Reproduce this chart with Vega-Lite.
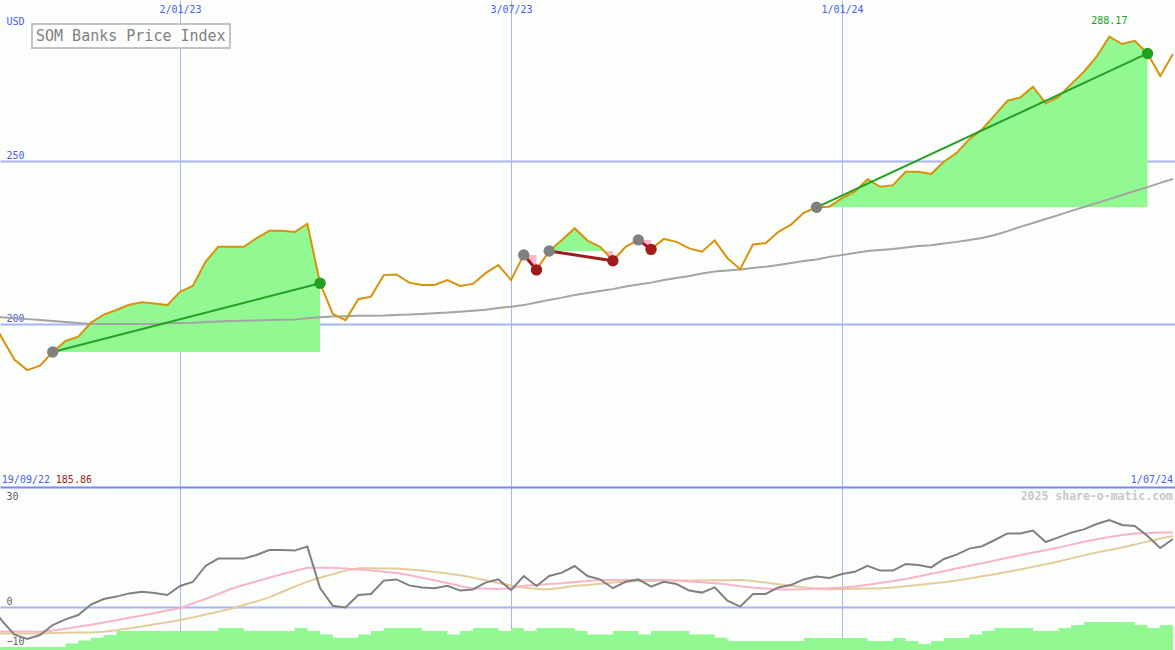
{
  "$schema": "https://vega.github.io/schema/vega-lite/v6.json",
  "background": "#fcfefc",
  "padding": 0,
  "spacing": 0,
  "config": {"view": {"stroke": null}, "font": "DejaVu Sans Mono"},
  "datasets": {
    "main": [
      {"d":"2022-09-19","p":203.0,"ma":202.5,"o":0.75,"pk":-6.1,"tn":-6.6,"v":-10.0},
      {"d":"2022-09-26","p":195.8,"ma":202.1,"o":-3.4,"pk":-6.1,"tn":-6.6,"v":-10.0},
      {"d":"2022-10-03","p":189.0,"ma":201.8,"o":-6.9,"pk":-6.1,"tn":-6.6,"v":-10.0},
      {"d":"2022-10-10","p":185.86,"ma":201.5,"o":-8.0,"pk":-6.1,"tn":-6.6,"v":-10.0},
      {"d":"2022-10-17","p":187.2,"ma":201.2,"o":-7.0,"pk":-6.2,"tn":-6.6,"v":-10.0},
      {"d":"2022-10-24","p":191.4,"ma":200.9,"o":-4.5,"pk":-5.9,"tn":-6.5,"v":-10.0},
      {"d":"2022-10-31","p":194.8,"ma":200.6,"o":-3.1,"pk":-5.45,"tn":-6.45,"v":-9.1},
      {"d":"2022-11-07","p":196.1,"ma":200.3,"o":-2.0,"pk":-4.95,"tn":-6.4,"v":-8.4},
      {"d":"2022-11-14","p":200.4,"ma":200.0,"o":0.6,"pk":-4.45,"tn":-6.35,"v":-7.7},
      {"d":"2022-11-21","p":202.9,"ma":200.0,"o":2.0,"pk":-3.9,"tn":-6.2,"v":-7.0},
      {"d":"2022-11-28","p":204.3,"ma":200.0,"o":2.6,"pk":-3.3,"tn":-5.8,"v":-6.0},
      {"d":"2022-12-05","p":205.9,"ma":200.0,"o":3.4,"pk":-2.7,"tn":-5.3,"v":-6.0},
      {"d":"2022-12-12","p":206.7,"ma":200.0,"o":3.8,"pk":-2.1,"tn":-4.85,"v":-6.0},
      {"d":"2022-12-19","p":206.3,"ma":200.0,"o":3.5,"pk":-1.5,"tn":-4.3,"v":-6.0},
      {"d":"2022-12-26","p":205.8,"ma":200.2,"o":3.0,"pk":-0.9,"tn":-3.8,"v":-6.0},
      {"d":"2023-01-02","p":209.9,"ma":200.3,"o":5.25,"pk":-0.3,"tn":-3.25,"v":-6.0},
      {"d":"2023-01-09","p":211.7,"ma":200.4,"o":6.25,"pk":0.9,"tn":-2.6,"v":-6.0},
      {"d":"2023-01-16","p":219.1,"ma":200.6,"o":10.25,"pk":2.0,"tn":-1.9,"v":-6.0},
      {"d":"2023-01-23","p":223.7,"ma":200.8,"o":12.1,"pk":3.25,"tn":-1.2,"v":-5.25},
      {"d":"2023-01-30","p":223.7,"ma":200.9,"o":12.1,"pk":4.5,"tn":-0.45,"v":-5.25},
      {"d":"2023-02-06","p":223.7,"ma":201.0,"o":12.1,"pk":5.5,"tn":0.5,"v":-6.0},
      {"d":"2023-02-13","p":226.3,"ma":201.1,"o":13.0,"pk":6.4,"tn":1.4,"v":-6.0},
      {"d":"2023-02-20","p":228.6,"ma":201.2,"o":14.25,"pk":7.3,"tn":2.4,"v":-6.0},
      {"d":"2023-02-27","p":228.6,"ma":201.3,"o":14.25,"pk":8.2,"tn":3.75,"v":-6.0},
      {"d":"2023-03-06","p":228.2,"ma":201.4,"o":14.1,"pk":9.0,"tn":5.1,"v":-5.25},
      {"d":"2023-03-13","p":230.7,"ma":201.8,"o":15.1,"pk":9.8,"tn":6.35,"v":-6.0},
      {"d":"2023-03-20","p":212.5,"ma":202.1,"o":4.75,"pk":9.8,"tn":7.3,"v":-6.9},
      {"d":"2023-03-27","p":203.1,"ma":202.3,"o":0.3,"pk":9.8,"tn":8.2,"v":-7.7},
      {"d":"2023-04-03","p":201.2,"ma":202.4,"o":-0.1,"pk":9.65,"tn":9.1,"v":-7.7},
      {"d":"2023-04-10","p":207.6,"ma":202.5,"o":3.0,"pk":9.4,"tn":9.7,"v":-6.9},
      {"d":"2023-04-17","p":208.4,"ma":202.5,"o":3.25,"pk":9.15,"tn":9.7,"v":-6.0},
      {"d":"2023-04-24","p":215.0,"ma":202.6,"o":6.6,"pk":8.8,"tn":9.65,"v":-5.25},
      {"d":"2023-05-01","p":215.2,"ma":202.8,"o":6.9,"pk":8.5,"tn":9.6,"v":-5.25},
      {"d":"2023-05-08","p":212.7,"ma":202.9,"o":5.4,"pk":8.0,"tn":9.4,"v":-5.25},
      {"d":"2023-05-15","p":212.0,"ma":203.1,"o":4.9,"pk":7.3,"tn":9.1,"v":-6.0},
      {"d":"2023-05-22","p":212.0,"ma":203.3,"o":4.7,"pk":6.7,"tn":8.75,"v":-6.0},
      {"d":"2023-05-29","p":213.5,"ma":203.5,"o":5.3,"pk":6.0,"tn":8.4,"v":-6.9},
      {"d":"2023-06-05","p":211.7,"ma":203.8,"o":4.1,"pk":5.25,"tn":7.95,"v":-6.0},
      {"d":"2023-06-12","p":212.3,"ma":204.1,"o":4.4,"pk":4.65,"tn":7.4,"v":-5.25},
      {"d":"2023-06-19","p":215.6,"ma":204.4,"o":6.1,"pk":4.6,"tn":6.7,"v":-5.25},
      {"d":"2023-06-26","p":218.1,"ma":204.9,"o":6.9,"pk":4.5,"tn":6.0,"v":-6.0},
      {"d":"2023-07-03","p":213.5,"ma":205.3,"o":4.25,"pk":4.7,"tn":5.4,"v":-5.25},
      {"d":"2023-07-10","p":221.2,"ma":205.8,"o":7.75,"pk":5.3,"tn":4.9,"v":-6.0},
      {"d":"2023-07-17","p":216.6,"ma":206.6,"o":5.25,"pk":5.5,"tn":4.5,"v":-5.25},
      {"d":"2023-07-24","p":222.4,"ma":207.4,"o":7.75,"pk":5.75,"tn":4.45,"v":-5.25},
      {"d":"2023-07-31","p":225.8,"ma":208.1,"o":8.6,"pk":5.95,"tn":4.8,"v":-5.25},
      {"d":"2023-08-07","p":229.4,"ma":208.9,"o":10.25,"pk":6.25,"tn":5.3,"v":-6.0},
      {"d":"2023-08-14","p":225.6,"ma":209.5,"o":7.75,"pk":6.5,"tn":5.5,"v":-6.9},
      {"d":"2023-08-21","p":223.7,"ma":210.1,"o":6.9,"pk":6.75,"tn":5.8,"v":-6.9},
      {"d":"2023-08-28","p":219.4,"ma":210.7,"o":4.7,"pk":6.75,"tn":6.1,"v":-6.0},
      {"d":"2023-09-04","p":223.7,"ma":211.5,"o":6.3,"pk":6.75,"tn":6.35,"v":-6.0},
      {"d":"2023-09-11","p":225.8,"ma":212.1,"o":6.9,"pk":6.75,"tn":6.5,"v":-6.9},
      {"d":"2023-09-18","p":222.9,"ma":212.7,"o":5.1,"pk":6.75,"tn":6.5,"v":-6.0},
      {"d":"2023-09-25","p":226.1,"ma":213.5,"o":6.3,"pk":6.75,"tn":6.6,"v":-6.0},
      {"d":"2023-10-02","p":225.2,"ma":214.1,"o":5.75,"pk":6.6,"tn":6.6,"v":-6.0},
      {"d":"2023-10-09","p":223.2,"ma":214.7,"o":4.1,"pk":6.4,"tn":6.6,"v":-6.9},
      {"d":"2023-10-16","p":222.2,"ma":215.5,"o":3.6,"pk":6.2,"tn":6.65,"v":-6.9},
      {"d":"2023-10-23","p":225.6,"ma":216.1,"o":4.9,"pk":5.95,"tn":6.7,"v":-7.7},
      {"d":"2023-10-30","p":220.2,"ma":216.4,"o":1.6,"pk":5.6,"tn":6.7,"v":-8.5},
      {"d":"2023-11-06","p":216.8,"ma":216.7,"o":0.1,"pk":5.2,"tn":6.75,"v":-8.5},
      {"d":"2023-11-13","p":224.4,"ma":217.2,"o":3.25,"pk":4.85,"tn":6.5,"v":-8.5},
      {"d":"2023-11-20","p":224.8,"ma":217.6,"o":3.25,"pk":4.6,"tn":6.1,"v":-8.5},
      {"d":"2023-11-27","p":228.3,"ma":218.1,"o":4.9,"pk":4.4,"tn":5.7,"v":-8.5},
      {"d":"2023-12-04","p":230.5,"ma":218.7,"o":5.5,"pk":4.4,"tn":5.3,"v":-8.5},
      {"d":"2023-12-11","p":234.1,"ma":219.3,"o":6.9,"pk":4.45,"tn":4.9,"v":-7.75},
      {"d":"2023-12-18","p":235.8,"ma":219.8,"o":7.6,"pk":4.6,"tn":4.65,"v":-7.75},
      {"d":"2023-12-25","p":236.0,"ma":220.6,"o":7.25,"pk":4.7,"tn":4.4,"v":-7.75},
      {"d":"2024-01-01","p":238.6,"ma":221.2,"o":8.25,"pk":4.85,"tn":4.5,"v":-7.75},
      {"d":"2024-01-08","p":240.6,"ma":221.8,"o":8.8,"pk":5.1,"tn":4.55,"v":-7.75},
      {"d":"2024-01-15","p":244.4,"ma":222.4,"o":10.3,"pk":5.55,"tn":4.6,"v":-8.5},
      {"d":"2024-01-22","p":242.1,"ma":222.7,"o":9.1,"pk":6.0,"tn":4.65,"v":-8.5},
      {"d":"2024-01-29","p":242.6,"ma":223.0,"o":9.1,"pk":6.5,"tn":4.9,"v":-7.75},
      {"d":"2024-02-05","p":246.7,"ma":223.5,"o":10.75,"pk":7.0,"tn":5.2,"v":-8.5},
      {"d":"2024-02-12","p":246.7,"ma":223.9,"o":10.5,"pk":7.65,"tn":5.5,"v":-9.25},
      {"d":"2024-02-19","p":246.0,"ma":224.2,"o":9.9,"pk":8.3,"tn":5.85,"v":-8.5},
      {"d":"2024-02-26","p":249.8,"ma":224.7,"o":12.0,"pk":8.95,"tn":6.2,"v":-7.75},
      {"d":"2024-03-04","p":252.5,"ma":225.2,"o":13.1,"pk":9.6,"tn":6.6,"v":-7.75},
      {"d":"2024-03-11","p":256.7,"ma":225.8,"o":14.6,"pk":10.3,"tn":7.1,"v":-6.9},
      {"d":"2024-03-18","p":259.7,"ma":226.4,"o":15.2,"pk":10.95,"tn":7.7,"v":-6.0},
      {"d":"2024-03-25","p":264.1,"ma":227.3,"o":16.75,"pk":11.65,"tn":8.2,"v":-5.25},
      {"d":"2024-04-01","p":268.5,"ma":228.5,"o":18.4,"pk":12.3,"tn":8.8,"v":-5.25},
      {"d":"2024-04-08","p":269.5,"ma":229.8,"o":18.4,"pk":12.95,"tn":9.4,"v":-5.25},
      {"d":"2024-04-15","p":272.8,"ma":231.0,"o":19.1,"pk":13.6,"tn":10.05,"v":-6.0},
      {"d":"2024-04-22","p":267.7,"ma":232.2,"o":16.25,"pk":14.2,"tn":10.7,"v":-6.0},
      {"d":"2024-04-29","p":269.7,"ma":233.4,"o":17.4,"pk":14.85,"tn":11.4,"v":-5.25},
      {"d":"2024-05-06","p":273.6,"ma":234.7,"o":18.6,"pk":15.6,"tn":12.15,"v":-4.5},
      {"d":"2024-05-13","p":277.4,"ma":235.9,"o":19.4,"pk":16.3,"tn":12.9,"v":-3.75},
      {"d":"2024-05-20","p":282.0,"ma":237.1,"o":20.75,"pk":16.95,"tn":13.6,"v":-3.75},
      {"d":"2024-05-27","p":288.17,"ma":238.3,"o":21.75,"pk":17.5,"tn":14.25,"v":-3.75},
      {"d":"2024-06-03","p":285.9,"ma":239.6,"o":20.5,"pk":18.0,"tn":14.9,"v":-3.75},
      {"d":"2024-06-10","p":286.9,"ma":240.8,"o":20.25,"pk":18.4,"tn":15.6,"v":-4.5},
      {"d":"2024-06-17","p":283.0,"ma":242.0,"o":17.75,"pk":18.5,"tn":16.4,"v":-5.25},
      {"d":"2024-06-24","p":276.1,"ma":243.3,"o":14.75,"pk":18.6,"tn":17.1,"v":-4.5},
      {"d":"2024-07-01","p":282.8,"ma":244.5,"o":17.0,"pk":18.65,"tn":17.75,"v":-4.5}
    ],
    "gain": [
      {"t":"t1","d":"2022-10-24","p":191.4,"b":191.4},
      {"t":"t1","d":"2022-10-31","p":194.8,"b":191.4},
      {"t":"t1","d":"2022-11-07","p":196.1,"b":191.4},
      {"t":"t1","d":"2022-11-14","p":200.4,"b":191.4},
      {"t":"t1","d":"2022-11-21","p":202.9,"b":191.4},
      {"t":"t1","d":"2022-11-28","p":204.3,"b":191.4},
      {"t":"t1","d":"2022-12-05","p":205.9,"b":191.4},
      {"t":"t1","d":"2022-12-12","p":206.7,"b":191.4},
      {"t":"t1","d":"2022-12-19","p":206.3,"b":191.4},
      {"t":"t1","d":"2022-12-26","p":205.8,"b":191.4},
      {"t":"t1","d":"2023-01-02","p":209.9,"b":191.4},
      {"t":"t1","d":"2023-01-09","p":211.7,"b":191.4},
      {"t":"t1","d":"2023-01-16","p":219.1,"b":191.4},
      {"t":"t1","d":"2023-01-23","p":223.7,"b":191.4},
      {"t":"t1","d":"2023-01-30","p":223.7,"b":191.4},
      {"t":"t1","d":"2023-02-06","p":223.7,"b":191.4},
      {"t":"t1","d":"2023-02-13","p":226.3,"b":191.4},
      {"t":"t1","d":"2023-02-20","p":228.6,"b":191.4},
      {"t":"t1","d":"2023-02-27","p":228.6,"b":191.4},
      {"t":"t1","d":"2023-03-06","p":228.2,"b":191.4},
      {"t":"t1","d":"2023-03-13","p":230.7,"b":191.4},
      {"t":"t1","d":"2023-03-20","p":212.5,"b":191.4},
      {"t":"t3","d":"2023-07-24","p":222.4,"b":222.4},
      {"t":"t3","d":"2023-07-31","p":225.8,"b":222.4},
      {"t":"t3","d":"2023-08-07","p":229.4,"b":222.4},
      {"t":"t3","d":"2023-08-14","p":225.6,"b":222.4},
      {"t":"t3","d":"2023-08-21","p":223.7,"b":222.4},
      {"t":"t3","d":"2023-08-23","p":222.4,"b":222.4},
      {"t":"t5","d":"2023-12-18","p":235.8,"b":235.8},
      {"t":"t5","d":"2023-12-25","p":236.0,"b":235.8},
      {"t":"t5","d":"2024-01-01","p":238.6,"b":235.8},
      {"t":"t5","d":"2024-01-08","p":240.6,"b":235.8},
      {"t":"t5","d":"2024-01-15","p":244.4,"b":235.8},
      {"t":"t5","d":"2024-01-22","p":242.1,"b":235.8},
      {"t":"t5","d":"2024-01-29","p":242.6,"b":235.8},
      {"t":"t5","d":"2024-02-05","p":246.7,"b":235.8},
      {"t":"t5","d":"2024-02-12","p":246.7,"b":235.8},
      {"t":"t5","d":"2024-02-19","p":246.0,"b":235.8},
      {"t":"t5","d":"2024-02-26","p":249.8,"b":235.8},
      {"t":"t5","d":"2024-03-04","p":252.5,"b":235.8},
      {"t":"t5","d":"2024-03-11","p":256.7,"b":235.8},
      {"t":"t5","d":"2024-03-18","p":259.7,"b":235.8},
      {"t":"t5","d":"2024-03-25","p":264.1,"b":235.8},
      {"t":"t5","d":"2024-04-01","p":268.5,"b":235.8},
      {"t":"t5","d":"2024-04-08","p":269.5,"b":235.8},
      {"t":"t5","d":"2024-04-15","p":272.8,"b":235.8},
      {"t":"t5","d":"2024-04-22","p":267.7,"b":235.8},
      {"t":"t5","d":"2024-04-29","p":269.7,"b":235.8},
      {"t":"t5","d":"2024-05-06","p":273.6,"b":235.8},
      {"t":"t5","d":"2024-05-13","p":277.4,"b":235.8},
      {"t":"t5","d":"2024-05-20","p":282.0,"b":235.8},
      {"t":"t5","d":"2024-05-27","p":288.17,"b":235.8},
      {"t":"t5","d":"2024-06-03","p":285.9,"b":235.8},
      {"t":"t5","d":"2024-06-10","p":286.9,"b":235.8},
      {"t":"t5","d":"2024-06-17","p":283.0,"b":235.8}
    ],
    "loss": [
      {"t":"t2","d":"2023-07-10","p":221.2,"b":221.2},
      {"t":"t2","d":"2023-07-17","p":216.6,"b":221.2},
      {"t":"t3","d":"2023-08-23","p":222.4,"b":222.4},
      {"t":"t3","d":"2023-08-28","p":219.4,"b":222.4},
      {"t":"t4","d":"2023-09-11","p":225.8,"b":225.8},
      {"t":"t4","d":"2023-09-18","p":222.9,"b":225.8}
    ],
    "trades": [
      {"t":"t1","d":"2022-10-24","p":191.4,"m":"entry","o":"win"},
      {"t":"t1","d":"2023-03-20","p":212.5,"m":"win","o":"win"},
      {"t":"t2","d":"2023-07-10","p":221.2,"m":"entry","o":"loss"},
      {"t":"t2","d":"2023-07-17","p":216.6,"m":"loss","o":"loss"},
      {"t":"t3","d":"2023-07-24","p":222.4,"m":"entry","o":"loss"},
      {"t":"t3","d":"2023-08-28","p":219.4,"m":"loss","o":"loss"},
      {"t":"t4","d":"2023-09-11","p":225.8,"m":"entry","o":"loss"},
      {"t":"t4","d":"2023-09-18","p":222.9,"m":"loss","o":"loss"},
      {"t":"t5","d":"2023-12-18","p":235.8,"m":"entry","o":"win"},
      {"t":"t5","d":"2024-06-17","p":283.0,"m":"win","o":"win"}
    ]
  },
  "vconcat": [
    {
      "width": 1175,
      "height": 487,
      "encoding": {
        "x": {
          "field": "d", "type": "temporal",
          "scale": {"type": "utc", "domain": [{"year":2022,"month":9,"date":25,"utc":true},{"year":2024,"month":7,"date":2,"hours":2,"minutes":24,"utc":true}]},
          "axis": {
            "orient": "top", "title": null,
            "values": [{"year":2023,"month":1,"date":2,"utc":true},{"year":2023,"month":7,"date":3,"utc":true},{"year":2024,"month":1,"date":1,"utc":true}],
            "labelExpr": "utcFormat(datum.value, '%-d/%m/%y')",
            "grid": true, "gridColor": "#a8b4f4", "gridWidth": 1,
            "ticks": false, "tickSize": 0, "domain": false,
            "labelPadding": -14, "labelBaseline": "bottom", "labelAlign": "center",
            "labelColor": "#4a5cf0", "labelFont": "DejaVu Sans Mono", "labelFontSize": 10,
            "labelFlush": false, "labelOverlap": false
          }
        },
        "y": {
          "field": "p", "type": "quantitative",
          "scale": {"domain": [150, 299.4], "nice": false, "zero": false},
          "axis": {
            "orient": "left", "values": [200, 250],
            "grid": true, "gridColor": "#a8b4f4", "gridWidth": 2,
            "ticks": false, "tickSize": 0, "domain": false,
            "labelAlign": "left", "labelBaseline": "bottom", "labelPadding": -6, "labelOffset": -1,
            "labelColor": "#4a5cf0", "labelFont": "DejaVu Sans Mono", "labelFontSize": 10,
            "labelFlush": false, "labelOverlap": false,
            "title": "USD", "titleAngle": 0, "titleX": 6, "titleY": 26, "titleAlign": "left", "titleBaseline": "bottom",
            "titleColor": "#4a5cf0", "titleFont": "DejaVu Sans Mono", "titleFontSize": 10, "titleFontWeight": "normal"
          }
        }
      },
      "layer": [
        {
          "data": {"name": "gain"},
          "mark": {"type": "area", "color": "#92f892", "clip": true},
          "encoding": {"y2": {"field": "b"}, "detail": {"field": "t", "type": "nominal"}}
        },
        {
          "data": {"name": "loss"},
          "mark": {"type": "area", "color": "#f8b8c8", "clip": true},
          "encoding": {"y2": {"field": "b"}, "detail": {"field": "t", "type": "nominal"}}
        },
        {
          "data": {"name": "main"},
          "mark": {"type": "line", "color": "#a4a4a4", "strokeWidth": 2, "clip": true},
          "encoding": {"y": {"field": "ma", "type": "quantitative", "scale": {"domain": [150, 299.4], "nice": false, "zero": false},
            "axis": {
            "orient": "left", "values": [200, 250],
            "grid": true, "gridColor": "#a8b4f4", "gridWidth": 2,
            "ticks": false, "tickSize": 0, "domain": false,
            "labelAlign": "left", "labelBaseline": "bottom", "labelPadding": -6, "labelOffset": -1,
            "labelColor": "#4a5cf0", "labelFont": "DejaVu Sans Mono", "labelFontSize": 10,
            "labelFlush": false, "labelOverlap": false,
            "title": "USD", "titleAngle": 0, "titleX": 6, "titleY": 26, "titleAlign": "left", "titleBaseline": "bottom",
            "titleColor": "#4a5cf0", "titleFont": "DejaVu Sans Mono", "titleFontSize": 10, "titleFontWeight": "normal"
          }}}
        },
        {
          "data": {"name": "main"},
          "mark": {"type": "line", "strokeWidth": 2, "clip": true},
          "encoding": {
            "color": {
              "datum": "SOM Banks Price Index", "type": "nominal",
              "scale": {"range": ["#d8920c"]},
              "legend": {
                "orient": "none", "legendX": 32, "legendY": 24, "title": null,
                "strokeColor": "#c4c4c4", "fillColor": "#fcfefc", "padding": 4,
                "symbolSize": 0.0001, "symbolOpacity": 0, "symbolStrokeWidth": 0, "labelOffset": -15,
                "labelFont": "DejaVu Sans Mono", "labelFontSize": 15, "labelColor": "#808080", "labelLimit": 600,
                "encode": {"legend": {"update": {"strokeWidth": {"value": 2}}}}
              }
            }
          }
        },
        {
          "data": {"name": "trades"},
          "mark": {"type": "line", "clip": true},
          "encoding": {
            "detail": {"field": "t", "type": "nominal"},
            "stroke": {"field": "o", "type": "nominal", "scale": {"domain": ["win", "loss"], "range": ["#22a022", "#a01c1c"]}, "legend": null},
            "strokeWidth": {"field": "o", "type": "nominal", "scale": {"domain": ["win", "loss"], "range": [2, 3]}, "legend": null}
          }
        },
        {
          "data": {"name": "trades"},
          "mark": {"type": "circle", "size": 130, "opacity": 1},
          "encoding": {
            "fill": {"field": "m", "type": "nominal", "scale": {"domain": ["entry", "win", "loss"], "range": ["#808080", "#22a022", "#a01c1c"]}, "legend": null}
          }
        },
        {
          "data": {"values": [{"d": "2022-09-26", "p": 150, "txt": "19/09/22"}]},
          "mark": {"type": "text", "align": "left", "baseline": "bottom", "dy": -2, "color": "#4a5cf0", "fontSize": 10, "font": "DejaVu Sans Mono"},
          "encoding": {"text": {"field": "txt"}}
        },
        {
          "data": {"values": [{"d": "2022-09-26", "p": 150, "txt": "185.86"}]},
          "mark": {"type": "text", "align": "left", "baseline": "bottom", "dy": -2, "dx": 54, "color": "#a01c1c", "fontSize": 10, "font": "DejaVu Sans Mono"},
          "encoding": {"text": {"field": "txt"}}
        },
        {
          "data": {"values": [{"d": "2024-07-01", "p": 150, "txt": "1/07/24"}]},
          "mark": {"type": "text", "align": "right", "baseline": "bottom", "dy": -2, "color": "#4a5cf0", "fontSize": 10, "font": "DejaVu Sans Mono"},
          "encoding": {"text": {"field": "txt"}}
        },
        {
          "data": {"values": [{"d": "2024-05-27", "p": 288.17, "txt": "288.17"}]},
          "mark": {"type": "text", "align": "center", "baseline": "bottom", "dy": -11, "color": "#22a022", "fontSize": 10, "font": "DejaVu Sans Mono"},
          "encoding": {"text": {"field": "txt"}}
        }
      ]
    },
    {
      "width": 1175,
      "height": 163,
      "encoding": {
        "x": {
          "field": "d", "type": "temporal",
          "scale": {"type": "utc", "domain": [{"year":2022,"month":9,"date":25,"utc":true},{"year":2024,"month":7,"date":2,"hours":2,"minutes":24,"utc":true}]},
          "axis": {
            "orient": "top", "title": null,
            "values": [{"year":2023,"month":1,"date":2,"utc":true},{"year":2023,"month":7,"date":3,"utc":true},{"year":2024,"month":1,"date":1,"utc":true}],
            "labels": false, "grid": true, "gridColor": "#a8b4f4", "gridWidth": 1,
            "ticks": false, "tickSize": 0, "domain": true, "domainColor": "#7888f0", "domainWidth": 2
          }
        },
        "y": {
          "field": "v", "type": "quantitative",
          "scale": {"domain": [-10.75, 30], "nice": false, "zero": false},
          "axis": {
            "orient": "left", "values": [30, 0, -10], "title": null,
            "grid": true, "gridColor": "#a8b4f4", "gridWidth": 2,
            "gridOpacity": {"condition": {"test": "datum.value === 0", "value": 1}, "value": 0},
            "ticks": false, "tickSize": 0, "domain": false,
            "labelAlign": "left", "labelPadding": -6,
            "labelBaseline": {"condition": {"test": "datum.value === 30", "value": "top"}, "value": "bottom"},
            "labelOffset": {"condition": {"test": "datum.value === 30", "value": 4}, "value": -1},
            "labelColor": "#606060", "labelFont": "DejaVu Sans Mono", "labelFontSize": 10,
            "labelFlush": false, "labelOverlap": false
          }
        }
      },
      "layer": [
        {
          "data": {"name": "main"},
          "mark": {"type": "area", "interpolate": "step-after", "color": "#92f892", "clip": true},
          "encoding": {"y2": {"datum": -10.75}}
        },
        {
          "data": {"name": "main"},
          "mark": {"type": "line", "color": "#e4cc9c", "strokeWidth": 2, "clip": true},
          "encoding": {"y": {"field": "tn", "type": "quantitative", "scale": {"domain": [-10.75, 30], "nice": false, "zero": false}, "title": null}}
        },
        {
          "data": {"name": "main"},
          "mark": {"type": "line", "color": "#f8b4c8", "strokeWidth": 2, "clip": true},
          "encoding": {"y": {"field": "pk", "type": "quantitative", "scale": {"domain": [-10.75, 30], "nice": false, "zero": false}, "title": null}}
        },
        {
          "data": {"name": "main"},
          "mark": {"type": "line", "color": "#808080", "strokeWidth": 2, "clip": true},
          "encoding": {"y": {"field": "o", "type": "quantitative", "scale": {"domain": [-10.75, 30], "nice": false, "zero": false}, "title": null}}
        },
        {
          "data": {"values": [{"d": "2024-07-01", "v": 30, "txt": "2025 share-o-matic.com"}]},
          "mark": {"type": "text", "align": "right", "baseline": "top", "dy": 4, "color": "#c8c8c8", "fontSize": 11.5, "fontWeight": "bold", "font": "DejaVu Sans Mono"},
          "encoding": {"text": {"field": "txt"}}
        }
      ]
    }
  ]
}
